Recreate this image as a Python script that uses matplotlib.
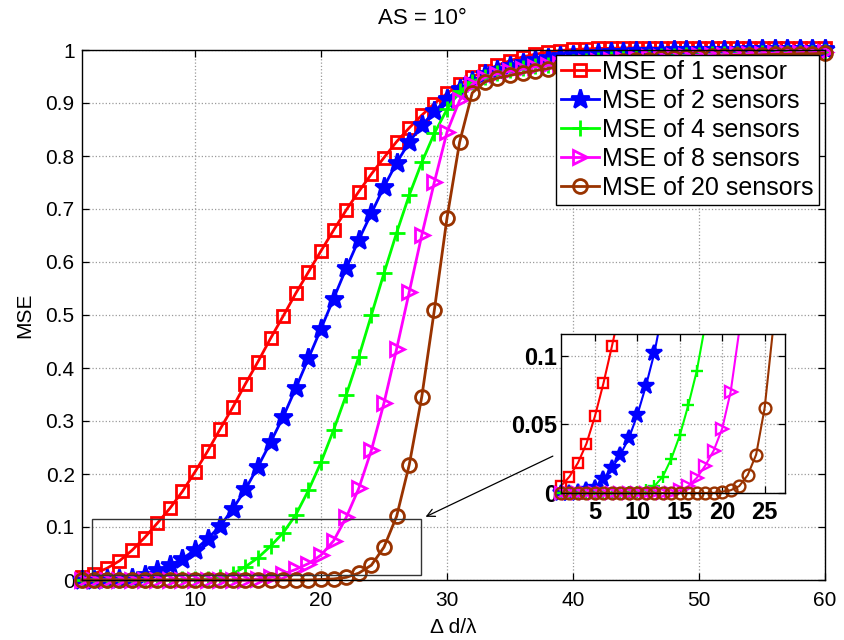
import numpy as np
import matplotlib
matplotlib.use("Agg")
from matplotlib import pyplot as plt

plt.rcParams['font.family'] = ['Liberation Sans', 'DejaVu Sans']

# spacing d/lambda, one sample per integer step
spacing = list(range(1, 61))

mse_1 = [0.005, 0.012, 0.022, 0.036, 0.056, 0.080, 0.107, 0.135, 0.167, 0.204,
         0.243, 0.285, 0.326, 0.370, 0.412, 0.456, 0.498, 0.541, 0.581, 0.621,
         0.660, 0.698, 0.733, 0.766, 0.797, 0.827, 0.853, 0.877, 0.899, 0.918,
         0.935, 0.949, 0.961, 0.971, 0.980, 0.987, 0.992, 0.996, 0.999, 1.001,
         1.002, 1.003, 1.003, 1.004, 1.004, 1.004, 1.004, 1.004, 1.004, 1.004,
         1.004, 1.004, 1.004, 1.004, 1.004, 1.004, 1.004, 1.004, 1.004, 1.003]

mse_2 = [0.000, 0.000, 0.001, 0.002, 0.004, 0.010, 0.018, 0.028, 0.040, 0.057,
         0.078, 0.102, 0.134, 0.171, 0.214, 0.260, 0.308, 0.362, 0.418, 0.474,
         0.531, 0.588, 0.642, 0.692, 0.742, 0.787, 0.826, 0.858, 0.884, 0.908,
         0.927, 0.942, 0.954, 0.963, 0.970, 0.976, 0.981, 0.985, 0.988, 0.991,
         0.993, 0.995, 0.996, 0.997, 0.998, 0.999, 0.999, 1.000, 1.000, 1.000,
         1.000, 1.000, 1.000, 1.001, 1.001, 1.001, 1.001, 1.001, 1.001, 1.001]

mse_4 = [0.000, 0.000, 0.000, 0.000, 0.000, 0.000, 0.000, 0.000, 0.001, 0.001,
         0.002, 0.005, 0.012, 0.025, 0.042, 0.064, 0.089, 0.123, 0.169, 0.222,
         0.283, 0.349, 0.421, 0.500, 0.579, 0.655, 0.726, 0.788, 0.843, 0.888,
         0.922, 0.940, 0.950, 0.957, 0.962, 0.966, 0.969, 0.972, 0.975, 0.977,
         0.979, 0.981, 0.983, 0.984, 0.985, 0.987, 0.988, 0.989, 0.990, 0.991,
         0.992, 0.992, 0.993, 0.993, 0.994, 0.994, 0.995, 0.995, 0.995, 0.996]

mse_8 = [0.000, 0.000, 0.000, 0.000, 0.000, 0.000, 0.000, 0.000, 0.000, 0.000,
         0.000, 0.000, 0.000, 0.000, 0.002, 0.005, 0.011, 0.020, 0.031, 0.047,
         0.074, 0.118, 0.173, 0.245, 0.334, 0.436, 0.543, 0.651, 0.751, 0.845,
         0.905, 0.935, 0.948, 0.955, 0.960, 0.964, 0.968, 0.971, 0.974, 0.976,
         0.978, 0.980, 0.982, 0.983, 0.985, 0.986, 0.987, 0.988, 0.989, 0.990,
         0.991, 0.991, 0.992, 0.993, 0.993, 0.994, 0.994, 0.995, 0.995, 0.996]

mse_20 = [0.000, 0.000, 0.000, 0.000, 0.000, 0.000, 0.000, 0.000, 0.000, 0.000,
          0.000, 0.000, 0.000, 0.000, 0.000, 0.000, 0.000, 0.000, 0.000, 0.001,
          0.002, 0.005, 0.013, 0.028, 0.062, 0.120, 0.217, 0.346, 0.510, 0.683,
          0.826, 0.919, 0.940, 0.947, 0.952, 0.957, 0.961, 0.965, 0.968, 0.971,
          0.973, 0.975, 0.977, 0.979, 0.981, 0.982, 0.984, 0.985, 0.986, 0.987,
          0.988, 0.989, 0.990, 0.990, 0.991, 0.992, 0.992, 0.993, 0.993, 0.994]

labels = ['MSE of 1 sensor', 'MSE of 2 sensors', 'MSE of 4 sensors',
          'MSE of 8 sensors', 'MSE of 20 sensors']
colors = ['#ff0000', '#0000ff', '#00ff00', '#ff00ff', '#993300']
markers = ['s', '*', '+', '>', 'o']
sizes = [9, 14, 11, 10, 10]
filled = [False, True, False, False, False]
series = [mse_1, mse_2, mse_4, mse_8, mse_20]


def draw(ax, scale, lw, xmax=None, ymax=None):
    x = np.array(spacing, dtype=float)
    for y, c, m, s, f, lab in zip(series, colors, markers, sizes, filled, labels):
        y = np.array(y)
        style = dict(color=c, marker=m, markersize=s * scale, mew=2 * scale,
                     mfc=c if f else 'none', mec=c)
        if ymax is None:
            ax.plot(x, y, lw=lw, label=lab, clip_on=False, **style)
        else:
            # line clipped to the box, markers only where the point is inside
            ax.plot(x, y, lw=lw, color=c)
            keep = (y <= ymax) & (x <= xmax)
            ax.plot(x[keep], y[keep], ls='none', clip_on=False, **style)


def matlab_axes(ax, fs, weight='normal'):
    ax.grid(True, ls=':', color='#9a9a9a', lw=0.9)
    ax.tick_params(direction='in', top=True, right=True, labelsize=fs,
                   length=5, width=0.9, pad=5)
    for lab in ax.get_xticklabels() + ax.get_yticklabels():
        lab.set_fontweight(weight)
    for sp in ax.spines.values():
        sp.set_linewidth(1.0)
        sp.set_zorder(5)


fig = plt.figure(figsize=(8.44, 6.4), dpi=100)
ax = fig.add_axes([81.6 / 844, 60 / 640, 743.4 / 844, 530 / 640])
draw(ax, 1.0, 2.0)
ax.set_xlim(1, 60)
ax.set_ylim(0, 1)
ax.set_xticks([10, 20, 30, 40, 50, 60])
ax.set_yticks(np.arange(0, 1.01, 0.1))
ax.set_yticklabels(['0', '0.1', '0.2', '0.3', '0.4', '0.5', '0.6', '0.7',
                    '0.8', '0.9', '1'])
matlab_axes(ax, 15)
ax.tick_params(axis='x', pad=8)
ax.set_xlabel('Δ d/λ', fontsize=15, labelpad=6)
ax.set_ylabel('MSE', fontsize=15, labelpad=8)
ax.set_title('AS = 10°', fontsize=16, pad=19, x=0.458)

leg = ax.legend(loc='upper right', bbox_to_anchor=(819 / 844, 1 - 55 / 640),
                bbox_transform=fig.transFigure, fontsize=18, fancybox=False,
                edgecolor='black', framealpha=1, borderaxespad=0,
                handlelength=1.5, handletextpad=0.15, labelspacing=0.2,
                borderpad=0.2)
leg.get_frame().set_linewidth(1.0)
leg.set_zorder(10)

# zoom box and arrow to the inset
ax.add_patch(plt.Rectangle((1.83, 0.0094), 26.1, 0.1056, fill=False,
                           ec='#333333', lw=1.0, zorder=6))
ax.annotate('', xy=(28.1, 0.117), xytext=(38.6, 0.236),
            arrowprops=dict(arrowstyle='->', color='black', lw=0.9,
                            mutation_scale=14), zorder=7)

ins = fig.add_axes([561 / 844, 147 / 640, 224 / 844, 159 / 640])
ins.set_xlim(1, 27.4)
ins.set_ylim(0, 0.116)
draw(ins, 0.85, 1.5, xmax=27.4, ymax=0.116)
ins.set_xticks([5, 10, 15, 20, 25])
ins.set_yticks([0, 0.05, 0.1])
ins.set_yticklabels(['0', '0.05', '0.1'])
matlab_axes(ins, 17, 'bold')
ins.tick_params(pad=3)
ins.tick_params(axis='x', pad=6)

fig.savefig('out.png', dpi=100)
